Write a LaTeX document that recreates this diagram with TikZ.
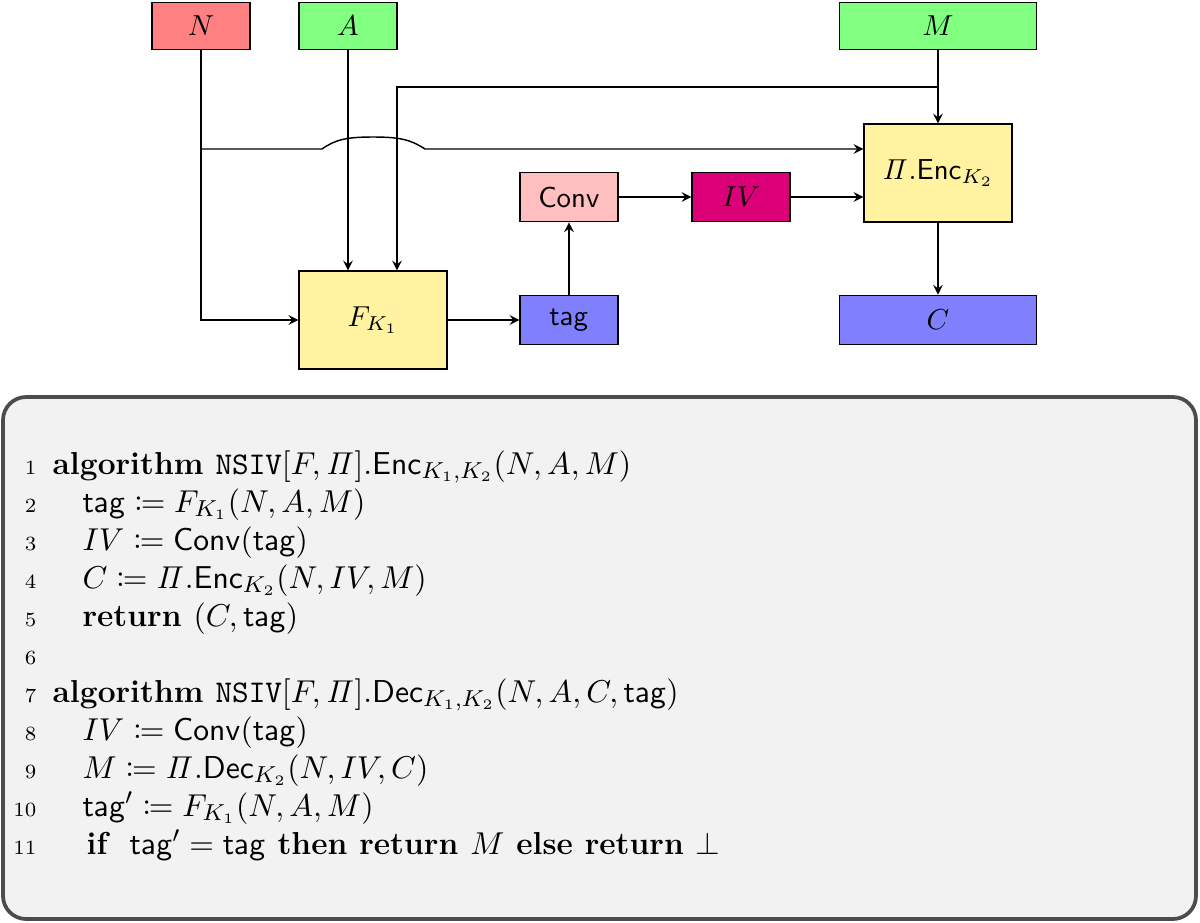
\documentclass[tikz,border=0pt]{standalone}
\usepackage{amsmath,amssymb,mathtools}
\usetikzlibrary{arrows, positioning}
\definecolor{rouge}{RGB}{255,128,128}
\definecolor{vert}{RGB}{128,255,128}
\definecolor{jaune}{RGB}{255,242,160}
\definecolor{rose}{RGB}{255,191,191}
\definecolor{magenta2}{RGB}{220,0,120}
\definecolor{bleu}{RGB}{128,128,255}
\definecolor{fond}{RGB}{242,242,242}
\tikzstyle{fleche} = [->,>=stealth,line width=0.5pt]
\tikzstyle{boite} = [draw,line width=0.5pt,inner sep=0pt,align=center]
\tikzstyle{ligne} = [anchor=base west,inner sep=0pt,font=\fontsize{11}{13}\selectfont]
\newcommand{\tagg}{\mathsf{tag}}
\newcommand{\Piit}{\mathit{\Pi}}
\begin{document}
\begin{tikzpicture}[x=0.01217cm,y=-0.01217cm]
	\useasboundingbox (0,0) rectangle (1200,923);

	\node[boite,fill=rouge,text width=1.19cm,minimum height=0.57cm] (N) at (201,26) {$N$};
	\node[boite,fill=vert,text width=1.19cm,minimum height=0.57cm] (A) at (348,26) {$A$};
	\node[boite,fill=vert,text width=2.4cm,minimum height=0.57cm] (M) at (938,26) {$M$};
	\node[boite,fill=jaune,text width=1.8cm,minimum height=1.19cm] (E) at (938,173) {$\Piit.\mathsf{Enc}_{K_2}$};
	\node[boite,fill=rose,text width=1.19cm,minimum height=0.6cm] (Conv) at (569,197) {$\mathsf{Conv}$};
	\node[boite,fill=magenta2,text width=1.19cm,minimum height=0.6cm] (IV) at (741,197) {$IV$};
	\node[boite,fill=jaune,text width=1.8cm,minimum height=1.19cm] (F) at (373,320) {$F_{K_1}$};
	\node[boite,fill=bleu,text width=1.19cm,minimum height=0.6cm] (tag) at (569,320) {$\tagg$};
	\node[boite,fill=bleu,text width=2.4cm,minimum height=0.6cm] (C) at (938,320) {$C$};

	\coordinate (NF) at (201,320);
	\coordinate (NE) at (201,149);
	\coordinate (ME) at (938,87);
	\coordinate (MF) at (397,87);

	\draw[fleche] (N) -- (NF) -- (F);
	\draw[fleche] (NE) -- (322,149) .. controls (335,140) and (345,137) .. (373,137)
		.. controls (401,137) and (411,140) .. (425,149) -- (E.west |- NE);
	\draw[fleche] (A) -- (A |- F.north);
	\draw[fleche] (M) -- (E);
	\draw[fleche] (ME) -- (MF) -- (MF |- F.north);
	\draw[fleche] (F) -- (tag);
	\draw[fleche] (tag) -- (Conv);
	\draw[fleche] (Conv) -- (IV);
	\draw[fleche] (IV) -- (E.west |- IV);
	\draw[fleche] (E) -- (C);

	\draw[line width=1.3pt,draw=black!70,fill=fond,rounded corners=8pt] (3,397) rectangle (1196,919);

	\foreach \i/\y in {1/474,2/512,3/550,4/588,5/626,6/664,7/702,8/740,9/778,10/816,11/854}
		\node[anchor=base east,inner sep=0pt,font=\scriptsize] (n\i) at (37,\y) {\i};
	\node[ligne] (l1) at (52,474) {$\textbf{algorithm }\mathtt{NSIV}[F,\Piit].\mathsf{Enc}_{K_1,K_2}(N,A,M)$};
	\node[ligne] (l2) at (82,512) {$\tagg \coloneqq F_{K_1}(N,A,M)$};
	\node[ligne] (l3) at (82,550) {$IV \coloneqq \mathsf{Conv}(\tagg)$};
	\node[ligne] (l4) at (82,588) {$C \coloneqq \Piit.\mathsf{Enc}_{K_2}(N,IV,M)$};
	\node[ligne] (l5) at (82,626) {$\textbf{return }(C,\tagg)$};
	\node[ligne] (l7) at (52,702) {$\textbf{algorithm }\mathtt{NSIV}[F,\Piit].\mathsf{Dec}_{K_1,K_2}(N,A,C,\tagg)$};
	\node[ligne] (l8) at (82,740) {$IV \coloneqq \mathsf{Conv}(\tagg)$};
	\node[ligne] (l9) at (82,778) {$M \coloneqq \Piit.\mathsf{Dec}_{K_2}(N,IV,C)$};
	\node[ligne] (l10) at (82,816) {$\tagg' \coloneqq F_{K_1}(N,A,M)$};
	\node[ligne] (l11) at (86,854) {$\textbf{if }\ \tagg'=\tagg\textbf{ then return }M\textbf{ else return }\bot$};
\end{tikzpicture}
\end{document}
